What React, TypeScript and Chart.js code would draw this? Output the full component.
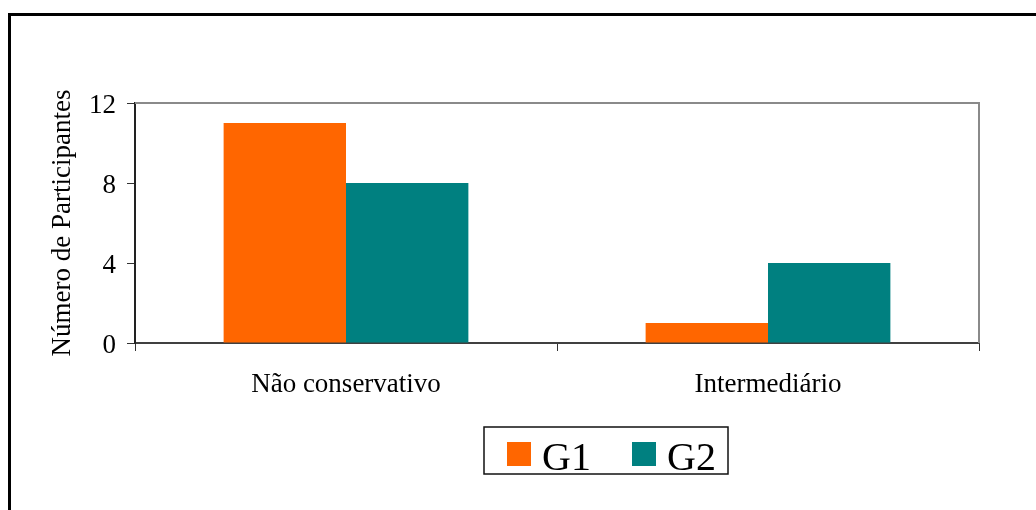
import React, { useEffect, useRef } from "react";
import { Chart, registerables } from "chart.js";

Chart.register(...registerables);

const categories = ["Não conservativo", "Intermediário"];
const seriesNames = ["G1", "G2"];
const g1Values = [11, 1];
const g2Values = [8, 4];
const yTicks = [0, 4, 8, 12];
const colors = ["#FF6600", "#008080"];

const FONT = "'Liberation Serif', 'Times New Roman', serif";

const framePlugin = {
  id: "frameAndLegend",
  afterDraw(chart: any) {
    const ctx = chart.ctx;
    const a = chart.chartArea;
    ctx.save();
    // plot area top/right border
    ctx.strokeStyle = "#8a8a8a";
    ctx.lineWidth = 2;
    ctx.beginPath();
    ctx.moveTo(a.left, a.top);
    ctx.lineTo(a.right, a.top);
    ctx.lineTo(a.right, a.bottom);
    ctx.stroke();
    // outer frame
    ctx.strokeStyle = "#000";
    ctx.lineWidth = 3;
    ctx.beginPath();
    ctx.moveTo(9.5, 520);
    ctx.lineTo(9.5, 14.5);
    ctx.lineTo(1040, 14.5);
    ctx.stroke();
    // legend box
    const bx = 484, by = 427, bw = 244, bh = 47;
    ctx.fillStyle = "#fff";
    ctx.fillRect(bx, by, bw, bh);
    ctx.strokeStyle = "#111";
    ctx.lineWidth = 1.5;
    ctx.strokeRect(bx, by, bw, bh);
    const items = chart.data.datasets.map((d: any) => ({ label: d.label, color: d.backgroundColor }));
    const xs = [507, 632];
    ctx.font = `40px ${FONT}`;
    ctx.textBaseline = "alphabetic";
    ctx.textAlign = "left";
    items.forEach((it: any, i: number) => {
      ctx.fillStyle = it.color;
      ctx.fillRect(xs[i], 442, 24, 24);
      ctx.fillStyle = "#000";
      ctx.fillText(it.label, xs[i] + 35, 470);
    });
    ctx.restore();
  },
};

export default function App() {
  const ref = useRef<HTMLCanvasElement>(null);
  useEffect(() => {
    if (!ref.current) return;
    const chart = new Chart(ref.current, {
      type: "bar",
      data: {
        labels: categories,
        datasets: [
          { label: seriesNames[0], data: g1Values, backgroundColor: colors[0], categoryPercentage: 0.58, barPercentage: 1 },
          { label: seriesNames[1], data: g2Values, backgroundColor: colors[1], categoryPercentage: 0.58, barPercentage: 1 },
        ],
      },
      options: {
        responsive: false,
        animation: false,
        devicePixelRatio: 1,
        layout: { padding: { left: 0, top: 103, right: 57, bottom: 0 } },
        plugins: { legend: { display: false }, tooltip: { enabled: false } },
        scales: {
          x: {
            afterFit(scale: any) { scale.height = 167; },
            grid: { display: true, drawOnChartArea: false, drawTicks: true, tickLength: 8, color: "#333", offset: true },
            border: { display: true, color: "#404040", width: 2 },
            ticks: { color: "#000", font: { family: FONT, size: 27 }, padding: 18, maxRotation: 0 },
          },
          y: {
            min: 0,
            max: 12,
            afterFit(scale: any) { scale.width = 135; },
            afterBuildTicks(scale: any) { scale.ticks = yTicks.map((v) => ({ value: v })); },
            grid: { display: true, drawOnChartArea: false, drawTicks: true, tickLength: 8, color: "#333" },
            border: { display: true, color: "#222", width: 2 },
            ticks: { color: "#000", font: { family: FONT, size: 27 }, padding: 11, labelOffset: 3 },
            title: { display: true, text: "Número de Participantes", color: "#000", font: { family: FONT, size: 27 }, padding: { top: 47, bottom: 0 } },
          },
        },
      },
      plugins: [framePlugin],
    });
    return () => chart.destroy();
  }, []);
  return (
    <div style={{ position: "fixed", left: 0, top: 0, width: 1036, height: 510, background: "#fff" }}>
      <canvas ref={ref} width={1036} height={510} style={{ display: "block", width: 1036, height: 510 }} />
    </div>
  );
}
